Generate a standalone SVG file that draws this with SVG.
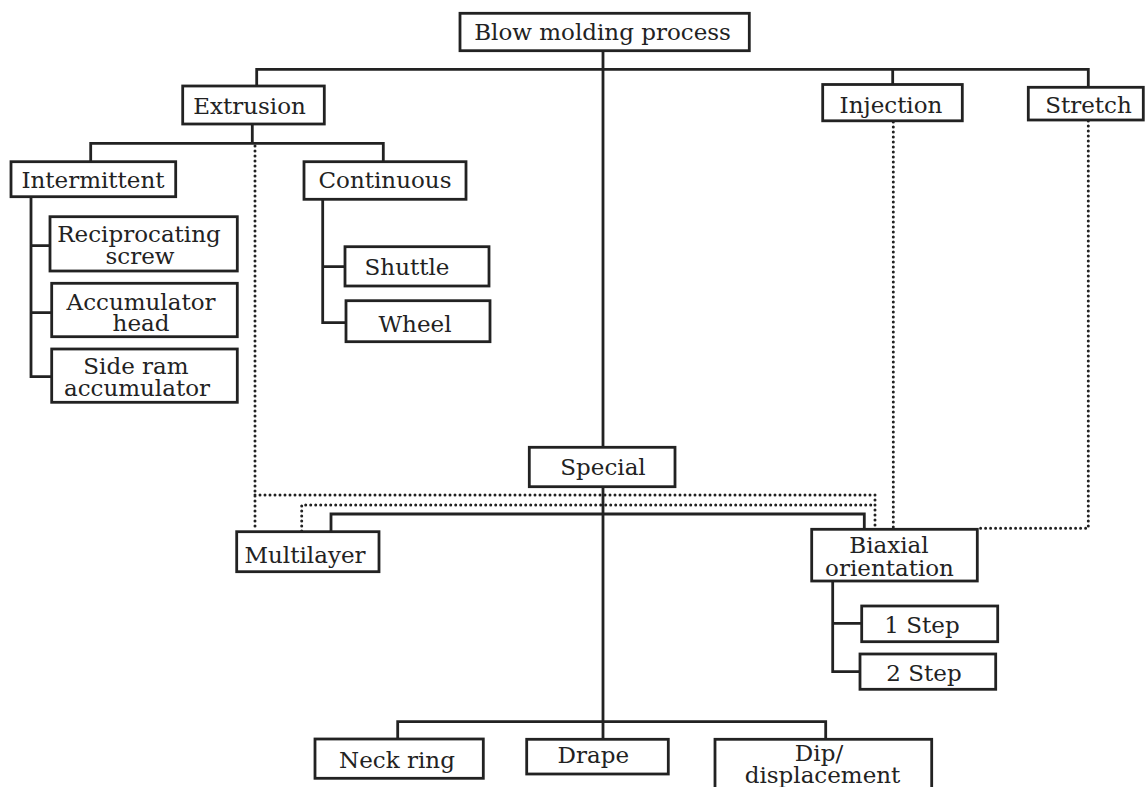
<svg xmlns="http://www.w3.org/2000/svg" width="1145" height="787" viewBox="0 0 1145 787">
<style>
.box{fill:#fff;stroke:#222;stroke-width:2.8}
.ln{fill:none;stroke:#222;stroke-width:2.8}
.dot{fill:none;stroke:#222;stroke-width:3;stroke-dasharray:0 5;stroke-linecap:round}
text{font-family:"DejaVu Serif","Liberation Serif",serif;font-size:23px;fill:#222;text-anchor:middle}
</style>
<rect width="1145" height="787" fill="#fff"/>
<g id="connectors">
<path class="ln" d="M603,50.7V447.3 M603,486.7V739.3"/>
<path class="ln" d="M256.7,86V69.3H1088.3V87.3 M892.7,69.3V84.3"/>
<path class="ln" d="M252.3,124V143.3 M90.7,161.7V143.3H383.3V161.7"/>
<path class="ln" d="M31,196.7V376.7H51.7 M31,245.7H50 M31,312.7H51.7"/>
<path class="ln" d="M322.7,199.3V322.7H346 M322.7,266.7H345"/>
<path class="ln" d="M331,531.7V514H864.3V529.3"/>
<path class="ln" d="M397.7,739V721.7H825.7V739.3"/>
<path class="ln" d="M832.7,581V671.7H860 M832.7,623.3H861.7"/>
<path class="dot" d="M255,146V531 M255,495H875V529"/>
<path class="dot" d="M301.7,531V505H873"/>
<path class="dot" d="M893.3,122V529"/>
<path class="dot" d="M1088.3,121V528.3H978"/>
</g>
<g id="blow"><rect class="box" x="460" y="13.3" width="289.3" height="37.4"/><text x="602.5" y="40">Blow molding process</text></g>
<g id="extrusion"><rect class="box" x="182.7" y="86" width="141.6" height="38"/><text x="249.5" y="114.3">Extrusion</text></g>
<g id="injection"><rect class="box" x="822.7" y="84.5" width="139.6" height="36.3"/><text x="891" y="113">Injection</text></g>
<g id="stretch"><rect class="box" x="1028.3" y="87.3" width="115" height="32.7"/><text x="1088.5" y="113">Stretch</text></g>
<g id="intermittent"><rect class="box" x="11" y="161.7" width="164.7" height="35"/><text x="93" y="187.7">Intermittent</text></g>
<g id="continuous"><rect class="box" x="304" y="161.7" width="162" height="37.6"/><text x="385" y="188.3">Continuous</text></g>
<g id="reciprocating"><rect class="box" x="50" y="216.7" width="187.3" height="54.3"/><text x="139" y="242">Reciprocating</text><text x="140" y="264">screw</text></g>
<g id="accumulator"><rect class="box" x="51.7" y="283.3" width="185.6" height="53.4"/><text x="141" y="309.5">Accumulator</text><text x="141" y="331">head</text></g>
<g id="sideram"><rect class="box" x="51.7" y="349" width="185.6" height="53.3"/><text x="136" y="374">Side ram</text><text x="137" y="395.5">accumulator</text></g>
<g id="shuttle"><rect class="box" x="345" y="246.7" width="144" height="39.3"/><text x="407" y="275">Shuttle</text></g>
<g id="wheel"><rect class="box" x="346" y="300.7" width="144" height="41"/><text x="415" y="331.7">Wheel</text></g>
<g id="special"><rect class="box" x="529.3" y="447.3" width="145.7" height="39.4"/><text x="603" y="475">Special</text></g>
<g id="multilayer"><rect class="box" x="236.7" y="531.7" width="142.3" height="40"/><text x="305" y="562.7">Multilayer</text></g>
<g id="biaxial"><rect class="box" x="811.7" y="529.3" width="165.6" height="51.7"/><text x="889" y="552.5">Biaxial</text><text x="889.5" y="575.5">orientation</text></g>
<g id="step1"><rect class="box" x="861.7" y="606" width="136" height="35.7"/><text x="922" y="632.7">1 Step</text></g>
<g id="step2"><rect class="box" x="860" y="654" width="135.7" height="35.3"/><text x="924" y="680.7">2 Step</text></g>
<g id="neckring"><rect class="box" x="315" y="739" width="168.3" height="39.3"/><text x="397" y="768.3">Neck ring</text></g>
<g id="drape"><rect class="box" x="526.7" y="739.3" width="141.6" height="34.7"/><text x="593.3" y="763.3">Drape</text></g>
<g id="dip"><rect class="box" x="715" y="739.3" width="216.7" height="70"/><text x="819" y="761">Dip/</text><text x="822.5" y="782.5">displacement</text></g>
</svg>
